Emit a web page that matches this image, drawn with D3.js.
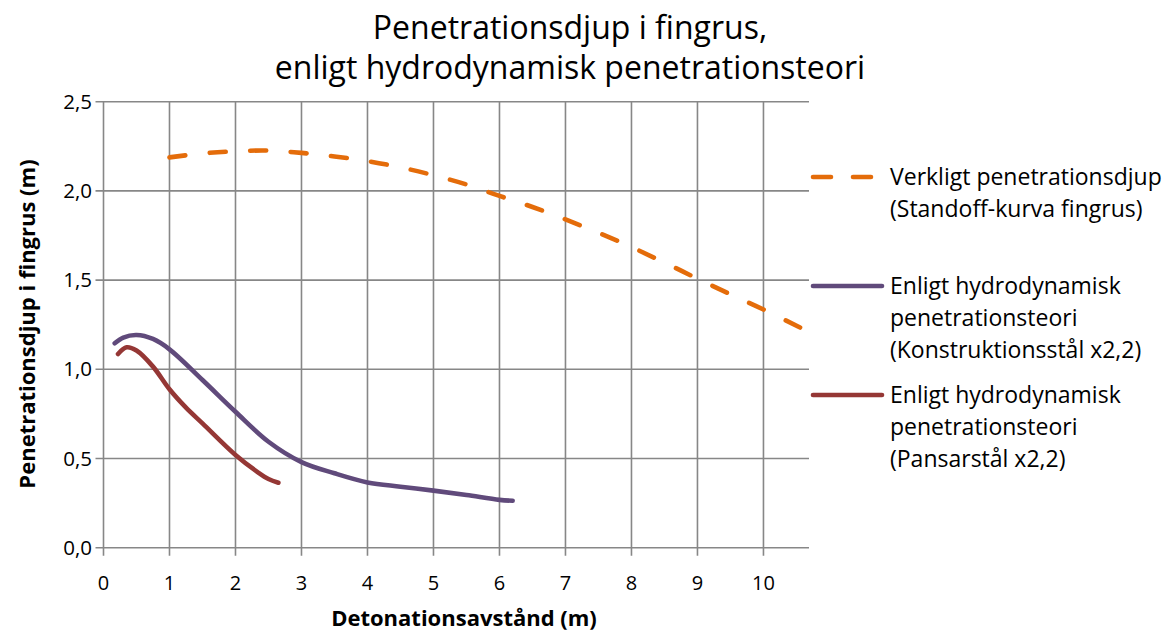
<!DOCTYPE html>
<html lang="sv">

<head>
  <meta charset="UTF-8">
  <title>Penetrationsdjup i fingrus</title>
  <script src="https://cdn.jsdelivr.net/npm/d3@7/dist/d3.min.js"></script>
  <style>
    body {
      margin: 0;
      background: #ffffff;
      overflow: hidden;
    }

    svg {
      display: block;
      font-family: 'Open Sans', 'Noto Sans', sans-serif;
      font-variant-ligatures: none;
    }

    .grid line {
      stroke: #878787;
      stroke-width: 1.6;
    }
  </style>
</head>

<body>
  <svg id="chart"></svg>

  <script>
    const width = 1174;
    const height = 633;

    const titleLines = ["Penetrationsdjup i fingrus,", "enligt hydrodynamisk penetrationsteori"];
    const xTitle = "Detonationsavstånd (m)";
    const yTitle = "Penetrationsdjup i fingrus (m)";

    const xTicks = [0, 1, 2, 3, 4, 5, 6, 7, 8, 9, 10];
    const yTicks = [0, 0.5, 1.0, 1.5, 2.0, 2.5];

    // verkligt penetrationsdjup (standoff-kurva fingrus)
    const verkligX = [1.0, 1.5, 2.0, 2.5, 3.0, 3.5, 4.0, 4.5, 5.0, 5.5, 6.0, 6.5, 7.0, 7.5, 8.0, 8.5, 9.0, 9.5, 10.0, 10.62];
    const verkligY = [2.188, 2.21, 2.222, 2.226, 2.213, 2.193, 2.167, 2.132, 2.088, 2.036, 1.972, 1.91, 1.84, 1.765, 1.685, 1.598, 1.508, 1.42, 1.335, 1.222];

    // konstruktionsstål x2,2
    const konstrX = [0.17, 0.3, 0.5, 0.75, 1.0, 1.5, 2.0, 2.5, 3.0, 3.5, 4.0, 4.5, 5.0, 5.5, 6.0, 6.2];
    const konstrY = [1.146, 1.178, 1.192, 1.17, 1.112, 0.94, 0.762, 0.594, 0.48, 0.417, 0.366, 0.342, 0.32, 0.295, 0.268, 0.263];

    // pansarstål x2,2
    const pansarX = [0.22, 0.35, 0.5, 0.75, 1.0, 1.25, 1.5, 2.0, 2.35, 2.5, 2.65];
    const pansarY = [1.086, 1.123, 1.105, 1.015, 0.888, 0.785, 0.697, 0.52, 0.42, 0.385, 0.364];

    const seriesNames = [
      ["Verkligt penetrationsdjup", "(Standoff-kurva fingrus)"],
      ["Enligt hydrodynamisk", "penetrationsteori", "(Konstruktionsstål x2,2)"],
      ["Enligt hydrodynamisk", "penetrationsteori", "(Pansarstål x2,2)"]
    ];
    const seriesColors = ["#e46c0a", "#604a7b", "#953735"];

    const series = [
      { xs: verkligX, ys: verkligY, dashed: true },
      { xs: konstrX, ys: konstrY, dashed: false },
      { xs: pansarX, ys: pansarY, dashed: false }
    ];

    const plot = { left: 103.5, right: 809, top: 101.7, bottom: 547.7 };

    const x = d3.scaleLinear().domain([0, 10.69]).range([plot.left, plot.right]);
    const y = d3.scaleLinear().domain([0, 2.5]).range([plot.bottom, plot.top]);

    const fmt = d => d3.format(".1f")(d).replace(".", ",");

    const svg = d3.select("#chart")
      .attr("width", width)
      .attr("height", height);

    // grid + axes
    const grid = svg.append("g").attr("class", "grid");

    grid.selectAll(".vline")
      .data(xTicks)
      .enter()
      .append("line")
      .attr("x1", d => x(d))
      .attr("x2", d => x(d))
      .attr("y1", plot.top)
      .attr("y2", plot.bottom + 8);

    grid.selectAll(".hline")
      .data(yTicks)
      .enter()
      .append("line")
      .attr("x1", plot.left - 8)
      .attr("x2", plot.right)
      .attr("y1", d => y(d))
      .attr("y2", d => y(d));

    svg.append("g")
      .selectAll("text")
      .data(xTicks)
      .enter()
      .append("text")
      .attr("x", d => x(d))
      .attr("y", 590)
      .attr("text-anchor", "middle")
      .attr("font-size", 20)
      .attr("fill", "#000")
      .text(d => d);

    svg.append("g")
      .selectAll("text")
      .data(yTicks)
      .enter()
      .append("text")
      .attr("x", 92)
      .attr("y", d => y(d) + 7)
      .attr("text-anchor", "end")
      .attr("font-size", 20.5)
      .attr("fill", "#000")
      .text(d => fmt(d));

    // lines
    const line = d3.line()
      .x(d => x(d[0]))
      .y(d => y(d[1]))
      .curve(d3.curveCatmullRom.alpha(0.5));

    series.forEach((s, i) => {
      const pts = s.xs.map((v, j) => [v, s.ys[j]]);
      svg.append("path")
        .datum(pts)
        .attr("d", line)
        .attr("fill", "none")
        .attr("stroke", seriesColors[i])
        .attr("stroke-width", 4.6)
        .attr("stroke-linecap", "round")
        .attr("stroke-linejoin", "round")
        .attr("stroke-dasharray", s.dashed ? "16,24.5" : null);
    });

    // titles
    svg.append("text")
      .attr("text-anchor", "middle")
      .attr("font-size", 32)
      .attr("fill", "#000")
      .selectAll("tspan")
      .data(titleLines)
      .enter()
      .append("tspan")
      .attr("x", 570)
      .attr("y", (d, i) => 39 + i * 39.5)
      .text(d => d);

    svg.append("text")
      .attr("x", 464)
      .attr("y", 626)
      .attr("text-anchor", "middle")
      .attr("font-size", 22)
      .attr("font-weight", "bold")
      .attr("fill", "#000")
      .text(xTitle);

    svg.append("text")
      .attr("transform", "translate(35,324) rotate(-90)")
      .attr("text-anchor", "middle")
      .attr("font-size", 22)
      .attr("font-weight", "bold")
      .attr("fill", "#000")
      .text(yTitle);

    // legend
    const legendLineY = [177, 286, 395];
    const legend = svg.append("g");

    seriesNames.forEach((lines, i) => {
      legend.append("line")
        .attr("x1", 813)
        .attr("x2", 882)
        .attr("y1", legendLineY[i])
        .attr("y2", legendLineY[i])
        .attr("stroke", seriesColors[i])
        .attr("stroke-width", 4.6)
        .attr("stroke-linecap", "round")
        .attr("stroke-dasharray", series[i].dashed ? "18,22" : null);

      legend.append("text")
        .attr("font-size", 23)
        .attr("fill", "#000")
        .selectAll("tspan")
        .data(lines)
        .enter()
        .append("tspan")
        .attr("x", 890)
        .attr("y", (d, j) => legendLineY[i] + 8 + j * 31.8)
        .text(d => d);
    });
  </script>
</body>

</html>
